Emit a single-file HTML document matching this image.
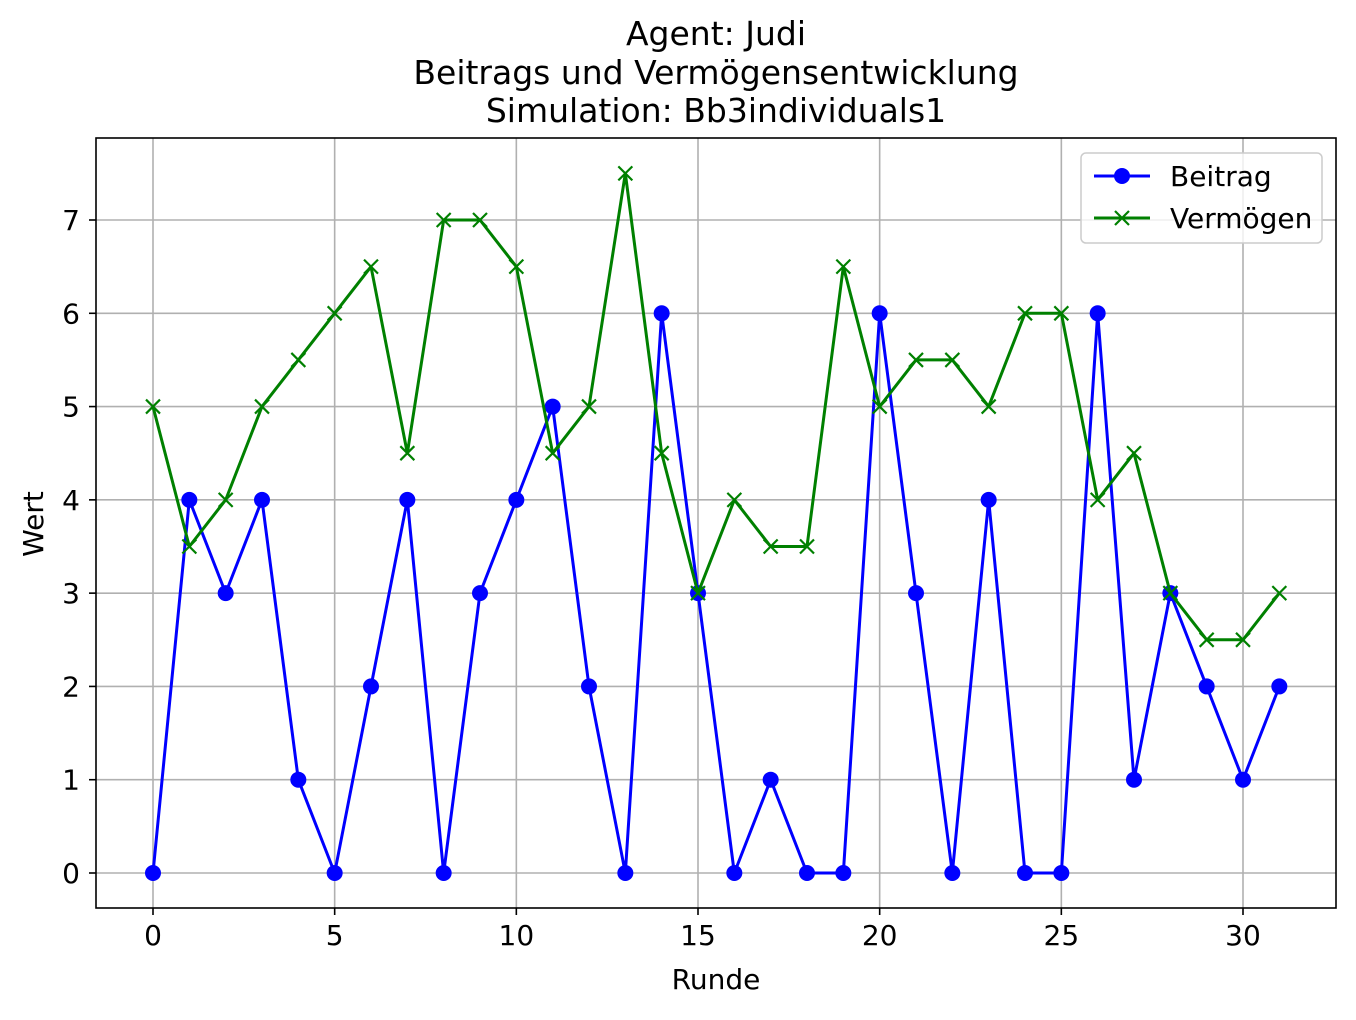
<!DOCTYPE html>
<html><head><meta charset="utf-8"><style>
body{margin:0;background:#fff;}
svg text{font-family:"DejaVu Sans","Liberation Sans",sans-serif;fill:#000;}
</style></head><body>
<svg id="chart" width="1356" height="1015" xmlns="http://www.w3.org/2000/svg">
<g>
<text x="716" y="45" font-size="33" text-anchor="middle">Agent: Judi</text>
<text x="716" y="84" font-size="33" text-anchor="middle">Beitrags und Vermögensentwicklung</text>
<text x="716" y="122" font-size="33" text-anchor="middle">Simulation: Bb3individuals1</text>
</g>
<g id="grid"></g>
<g id="axes"></g>
<g id="series"></g>
<rect x="96" y="138" width="1240" height="770" fill="none" stroke="#000" stroke-width="1.6"/>
<text x="716" y="989" font-size="28" text-anchor="middle">Runde</text>
<text transform="translate(43,524) rotate(-90)" font-size="28" text-anchor="middle">Wert</text>
<g>
<rect x="1081" y="153" width="241" height="90" rx="5" fill="#fff" fill-opacity="0.8" stroke="#ccc" stroke-width="1.5"/>
<g>
<line x1="1094" y1="176" x2="1150" y2="176" stroke="#0000ff" stroke-width="3"/>
<circle cx="1122" cy="176" r="8" fill="#0000ff"/>
<text x="1170" y="186" font-size="28">Beitrag</text>
</g>
<g>
<line x1="1094" y1="218" x2="1150" y2="218" stroke="#008000" stroke-width="3"/>
<path d="M1115 211 L1129 225 M1115 225 L1129 211" stroke="#008000" stroke-width="2.2"/>
<text x="1170" y="228" font-size="28">Vermögen</text>
</g>
</g>
</svg>
<script>
const rounds = [0,1,2,3,4,5,6,7,8,9,10,11,12,13,14,15,16,17,18,19,20,21,22,23,24,25,26,27,28,29,30,31];
const beitrag = [0,4,3,4,1,0,2,4,0,3,4,5,2,0,6,3,0,1,0,0,6,3,0,4,0,0,6,1,3,2,1,2];
const vermoegen = [5,3.5,4,5,5.5,6,6.5,4.5,7,7,6.5,4.5,5,7.5,4.5,3,4,3.5,3.5,6.5,5,5.5,5.5,5,6,6,4,4.5,3,2.5,2.5,3];
const xTicks = [0,5,10,15,20,25,30];
const yTicks = [0,1,2,3,4,5,6,7];
const NS="http://www.w3.org/2000/svg";
const xs = v => 153 + v*(1243-153)/30;
const ys = v => 873 - v*(873-220)/7;
function mk(tag, attrs, parent){const e=document.createElementNS(NS,tag);for(const k in attrs)e.setAttribute(k,attrs[k]);parent.appendChild(e);return e;}
const grid=document.getElementById('grid'), axes=document.getElementById('axes'), series=document.getElementById('series');
xTicks.forEach(t=>{
  const g=mk('line',{x1:xs(t),x2:xs(t),y1:138,y2:908,stroke:'#b0b0b0','stroke-width':1.6},grid);
  
  
  mk('line',{x1:xs(t),x2:xs(t),y1:908,y2:915,stroke:'#000','stroke-width':1.6},axes);
  const tx=mk('text',{x:xs(t),y:945,'font-size':28,'text-anchor':'middle'},axes);
  tx.textContent=t;
  
  
});
yTicks.forEach(t=>{
  const g=mk('line',{x1:96,x2:1336,y1:ys(t),y2:ys(t),stroke:'#b0b0b0','stroke-width':1.6},grid);
  
  
  mk('line',{x1:89,x2:96,y1:ys(t),y2:ys(t),stroke:'#000','stroke-width':1.6},axes);
  const tx=mk('text',{x:80,y:ys(t)+10,'font-size':28,'text-anchor':'end'},axes);
  tx.textContent=t;
  
  
});
const pb=mk('polyline',{points:rounds.map((r,i)=>xs(r)+','+ys(beitrag[i])).join(' '),fill:'none',stroke:'#0000ff','stroke-width':3,'stroke-linejoin':'round'},series);


rounds.forEach((r,i)=>{
  const c=mk('circle',{cx:xs(r),cy:ys(beitrag[i]),r:8,fill:'#0000ff'},series);
  
  
});
const pv=mk('polyline',{points:rounds.map((r,i)=>xs(r)+','+ys(vermoegen[i])).join(' '),fill:'none',stroke:'#008000','stroke-width':3,'stroke-linejoin':'round'},series);


rounds.forEach((r,i)=>{
  const x=xs(r),y=ys(vermoegen[i]);
  const p=mk('path',{d:`M${x-7} ${y-7} L${x+7} ${y+7} M${x-7} ${y+7} L${x+7} ${y-7}`,stroke:'#008000','stroke-width':2.2},series);
  
  
});
</script>
</body></html>
